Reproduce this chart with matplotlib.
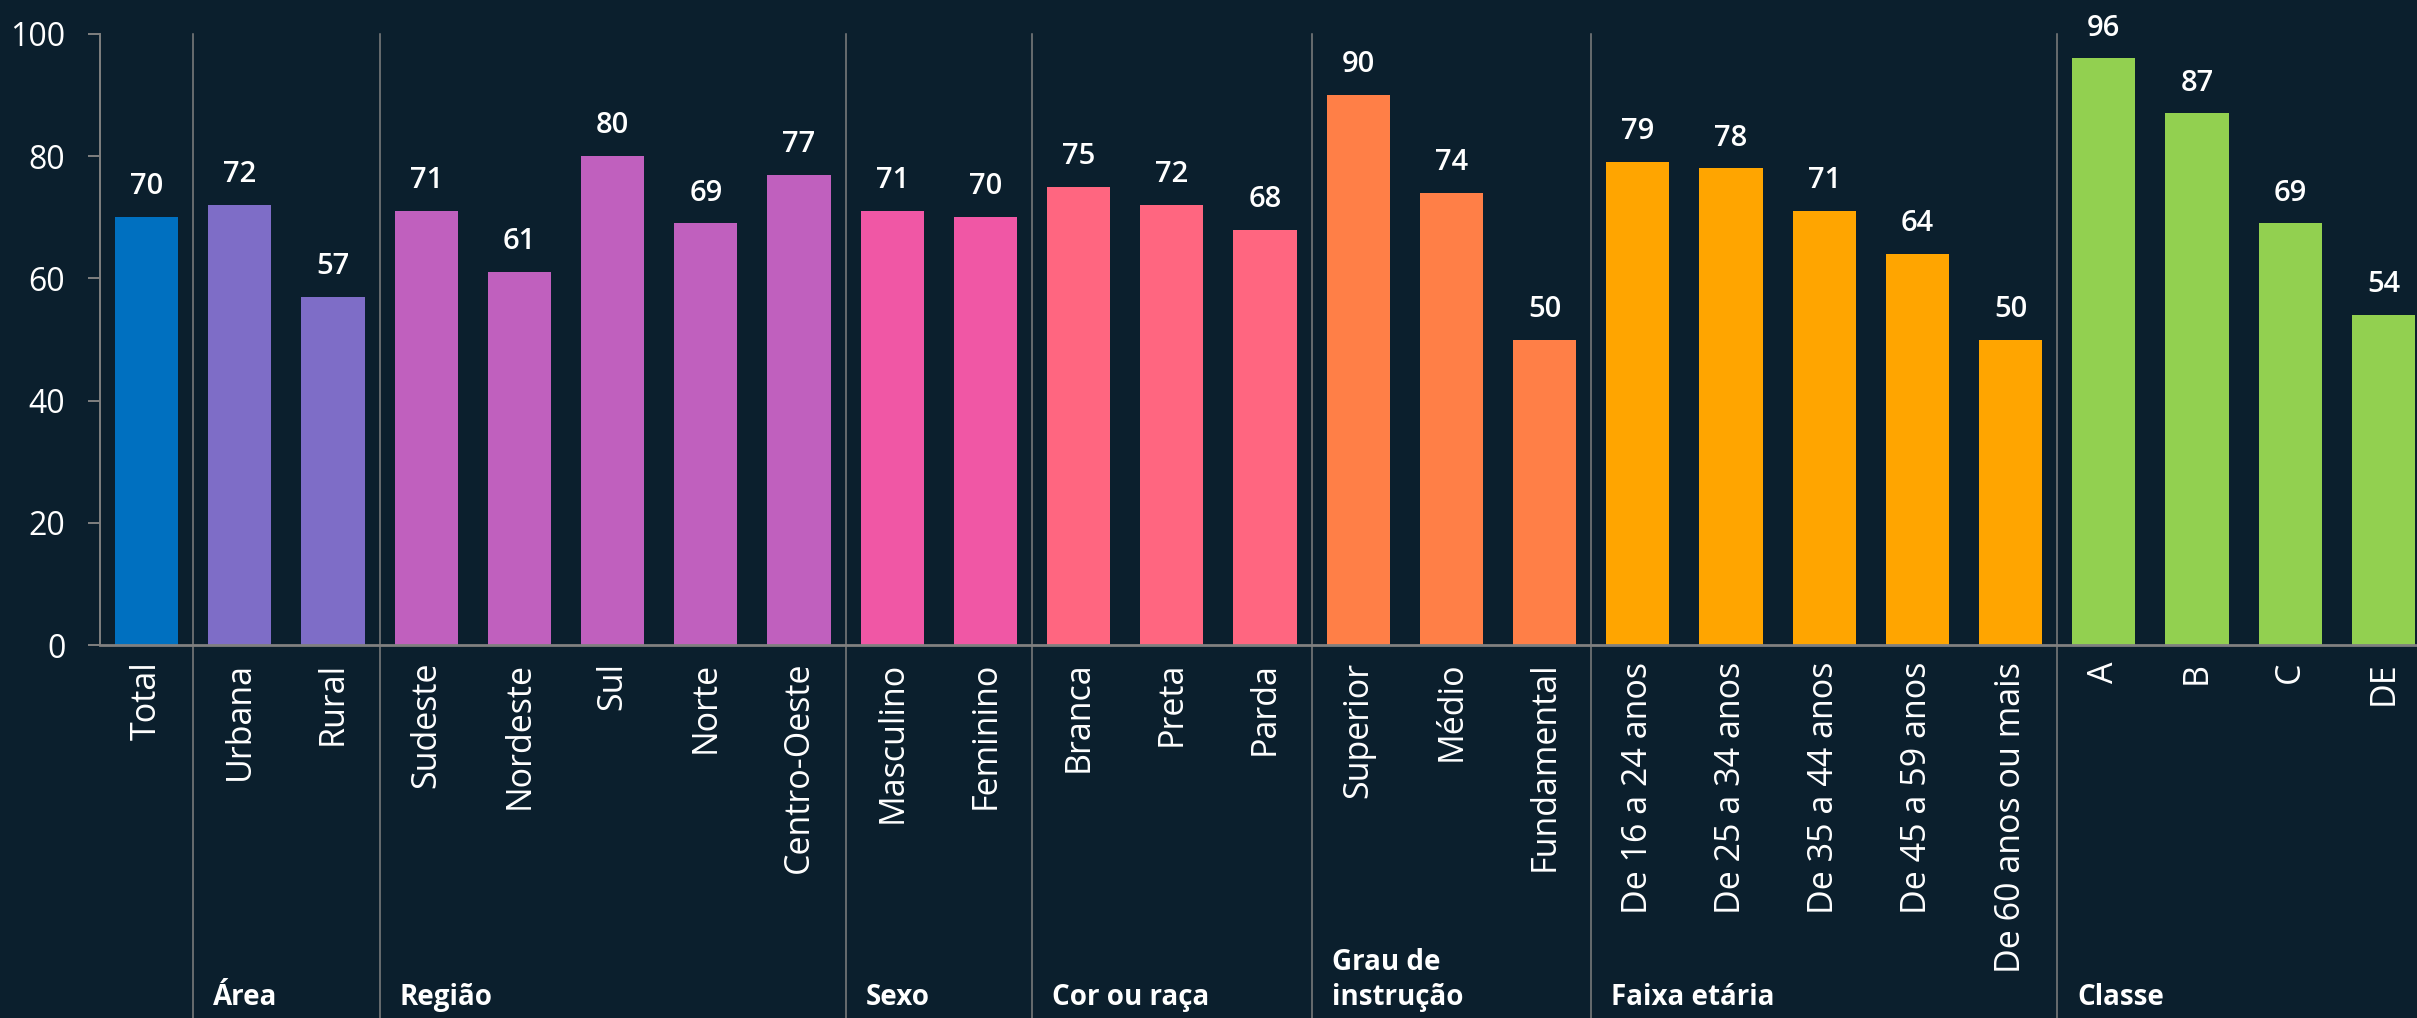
import matplotlib
matplotlib.use("Agg")
import matplotlib.pyplot as plt
import matplotlib.transforms as mtransforms

# Data
groups = ["", "Área", "Região", "Sexo", "Cor ou raça", "Grau de\ninstrução", "Faixa etária", "Classe"]
categories = [
    ["Total"],
    ["Urbana", "Rural"],
    ["Sudeste", "Nordeste", "Sul", "Norte", "Centro-Oeste"],
    ["Masculino", "Feminino"],
    ["Branca", "Preta", "Parda"],
    ["Superior", "Médio", "Fundamental"],
    ["De 16 a 24 anos", "De 25 a 34 anos", "De 35 a 44 anos", "De 45 a 59 anos", "De 60 anos ou mais"],
    ["A", "B", "C", "DE"],
]
values = [
    [70],
    [72, 57],
    [71, 61, 80, 69, 77],
    [71, 70],
    [75, 72, 68],
    [90, 74, 50],
    [79, 78, 71, 64, 50],
    [96, 87, 69, 54],
]
colors = ["#0070C0", "#7E6DC7", "#C060BE", "#F057A5", "#FF6680", "#FF7F47", "#FFA500", "#92D050"]

bg = "#0B1F2D"
grid_c = "#808080"

fig = plt.figure(figsize=(24.17, 10.18), dpi=100, facecolor=bg)
ax = fig.add_axes([100 / 2417, 1 - 645 / 1018, 1 - 100 / 2417, (645 - 34) / 1018])
ax.set_facecolor(bg)

labels, heights, bar_colors, boundaries = [], [], [], []
pos = 0
for cats, vals, col in zip(categories, values, colors):
    labels += cats
    heights += vals
    bar_colors += [col] * len(cats)
    pos += len(cats)
    boundaries.append(pos - 0.5)

x = list(range(len(labels)))
ax.bar(x, heights, width=0.676, color=bar_colors, zorder=2)

for xi, h in zip(x, heights):
    ax.text(xi, h + 2.6, str(h), ha="center", va="bottom", color="white",
            fontsize=21, fontweight="semibold", family="Open Sans")

slot = 93.2
ax.set_xlim(-0.5, -0.5 + 2317 / slot)
ax.set_ylim(0, 100)
ax.set_yticks([0, 20, 40, 60, 80, 100])
ax.set_xticks(x)
ax.set_xticklabels(labels)
ax.tick_params(axis="x", length=0, pad=12, labelrotation=90, labelsize=24.5, labelcolor="white")
ax.tick_params(axis="y", colors=grid_c, length=9, width=1.4, pad=16, labelcolor="white", labelsize=23)
for t in ax.get_xticklabels():
    t.set_family("Open Sans")
    t.set_verticalalignment("top")
for t in ax.get_yticklabels():
    t.set_family("Open Sans")

for s in ["top", "right"]:
    ax.spines[s].set_visible(False)
ax.spines["left"].set_color(grid_c)
ax.spines["left"].set_linewidth(1.4)
ax.spines["bottom"].set_color(grid_c)
ax.spines["bottom"].set_linewidth(2)

trans = mtransforms.blended_transform_factory(ax.transData, ax.transAxes)
for b in boundaries[:-1]:
    ax.plot([b, b], [1.0, -0.62], transform=trans, color=grid_c, lw=1.1, clip_on=False, zorder=1)

starts = [-0.5] + boundaries[:-1]
for g, s in zip(groups, starts):
    if g:
        ax.text(s + 20 / slot, -(1005 - 645) / 611, g, transform=trans, ha="left", va="baseline",
                color="white", fontsize=20, fontweight="bold", family="Open Sans", linespacing=1.25)

fig.savefig("out.png", dpi=100, facecolor=bg)
